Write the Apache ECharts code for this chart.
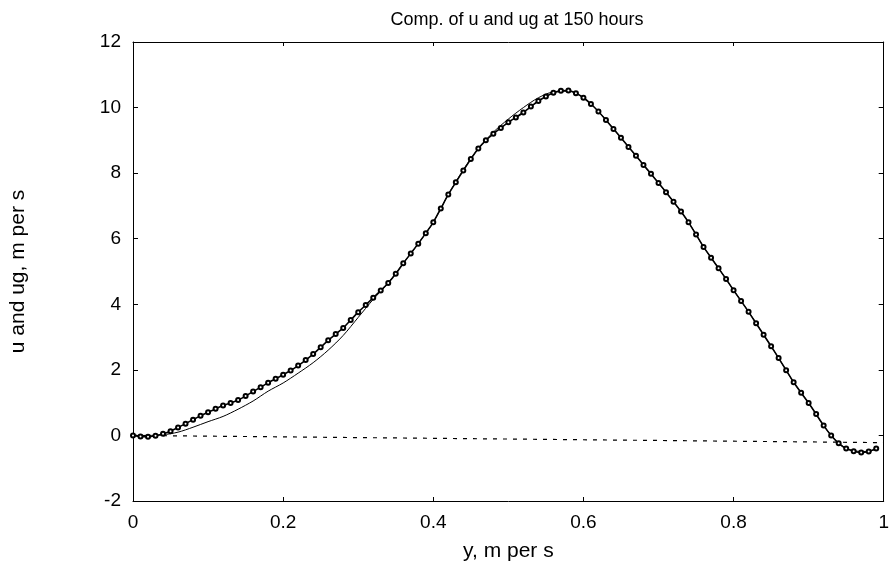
<!DOCTYPE html>
<html><head><meta charset="utf-8">
<script src="https://cdn.jsdelivr.net/npm/echarts@6/dist/echarts.min.js"></script>
<style>html,body{margin:0;padding:0;background:#fff}#c{width:892px;height:579px}</style>
</head><body><div id="c"></div>
<script>
const xsU = [0,0.01,0.02,0.03,0.04,0.05,0.06,0.07,0.08,0.09,0.10,0.11,0.12,0.13,0.14,0.15,0.16,0.17,0.18,0.19,0.20,0.21,0.22,0.23,0.24,0.25,0.26,0.27,0.28,0.29,0.30,0.31,0.32,0.33,0.34,0.35,0.36,0.37,0.38,0.39,0.40,0.41,0.42,0.43,0.44,0.45,0.46,0.47,0.48,0.49,0.50,0.51,0.52,0.53,0.54,0.55,0.56,0.57,0.58,0.59,0.60,0.61,0.62,0.63,0.64,0.65,0.66,0.67,0.68,0.69,0.70,0.71,0.72,0.73,0.74,0.75,0.76,0.77,0.78,0.79,0.80,0.81,0.82,0.83,0.84,0.85,0.86,0.87,0.88,0.89,0.90,0.91,0.92,0.93,0.94,0.95,0.96,0.97,0.98,0.99];
const uVals = [0,-0.03,-0.04,-0.01,0.05,0.13,0.24,0.36,0.48,0.60,0.71,0.81,0.91,0.99,1.08,1.20,1.34,1.47,1.61,1.73,1.85,1.98,2.13,2.30,2.48,2.69,2.90,3.09,3.28,3.52,3.76,3.98,4.20,4.42,4.65,4.93,5.25,5.55,5.85,6.17,6.50,6.92,7.35,7.72,8.08,8.43,8.75,9.00,9.20,9.38,9.55,9.70,9.85,10.03,10.20,10.34,10.45,10.51,10.52,10.44,10.30,10.11,9.88,9.62,9.35,9.08,8.80,8.53,8.25,7.98,7.70,7.42,7.13,6.83,6.50,6.13,5.75,5.42,5.10,4.77,4.43,4.10,3.77,3.42,3.07,2.72,2.36,1.99,1.62,1.30,0.99,0.65,0.30,0.00,-0.24,-0.40,-0.48,-0.52,-0.49,-0.40];
const xsG = [0,0.02,0.04,0.06,0.08,0.10,0.12,0.14,0.16,0.18,0.20,0.22,0.24,0.26,0.28,0.30,0.32,0.34,0.36,0.38,0.40,0.42,0.44,0.46,0.48,0.50,0.52,0.54,0.56,0.58,0.60,0.62,0.64,0.66,0.68,0.70,0.72,0.74,0.76,0.78,0.80,0.82,0.84,0.86,0.88,0.90,0.92,0.94,0.96,0.98,0.99];
const ugVals = [0,0,0.02,0.1,0.25,0.42,0.58,0.8,1.05,1.35,1.6,1.9,2.22,2.6,3.05,3.6,4.15,4.65,5.25,5.85,6.5,7.35,8.1,8.75,9.25,9.65,10.0,10.3,10.48,10.5,10.3,9.88,9.35,8.8,8.25,7.7,7.13,6.5,5.75,5.1,4.43,3.77,3.07,2.36,1.62,0.99,0.3,-0.24,-0.47,-0.49,-0.4];
const refX = [0, 1];
const refVals = [0, -0.22];
const xTicks = [0,0.2,0.4,0.6,0.8,1];
const yTicks = [-2,0,2,4,6,8,10,12];

const pair = (a,b)=>a.map((v,i)=>[v,b[i]]);
const font = 'Liberation Sans, Arial, sans-serif';
const chart = echarts.init(document.getElementById('c'));
const axLine = {show:true,onZero:false,lineStyle:{color:'#000',width:1}};
chart.setOption({
  animation:false,
  backgroundColor:'#fff',
  title:{text:'Comp. of u and ug at 150 hours',left:512,top:6,textAlign:'center',
    textStyle:{fontFamily:font,fontWeight:'normal',fontSize:18,color:'#000'}},
  grid:{left:133,right:7,top:42,bottom:78},
  xAxis:[{type:'value',min:0,max:1,interval:0.2,position:'bottom',
    axisLine:axLine,axisTick:{show:true,inside:true,length:4,lineStyle:{color:'#000'}},
    splitLine:{show:false},
    axisLabel:{color:'#000',fontSize:19,fontFamily:font,margin:12,
      formatter:v=>xTicks.includes(+v.toFixed(1))?String(+v.toFixed(1)):''},
    name:'y, m per s',nameLocation:'middle',nameGap:40,
    nameTextStyle:{color:'#000',fontSize:21,fontFamily:font}},
   {type:'value',min:0,max:1,interval:0.2,position:'top',
    axisLine:axLine,axisTick:{show:true,inside:true,length:4,lineStyle:{color:'#000'}},
    axisLabel:{show:false},splitLine:{show:false}}],
  yAxis:[{type:'value',min:-2,max:12,interval:2,position:'left',
    axisLine:axLine,axisTick:{show:true,inside:true,length:5,lineStyle:{color:'#000'}},
    splitLine:{show:false},
    axisLabel:{color:'#000',fontSize:19,fontFamily:font,margin:12,
      formatter:v=>yTicks.includes(v)?String(v):''},
    name:'u and ug, m per s',nameLocation:'middle',nameGap:104,nameRotate:90,
    nameTextStyle:{color:'#000',fontSize:21,fontFamily:font}},
   {type:'value',min:-2,max:12,interval:2,position:'right',
    axisLine:axLine,axisTick:{show:true,inside:true,length:5,lineStyle:{color:'#000'}},
    axisLabel:{show:false},splitLine:{show:false}}],
  series:[
    {name:'zero',type:'line',data:pair(refX,refVals),showSymbol:false,symbol:'none',
     lineStyle:{color:'#000',width:1.2,type:[4,6]}},
    {name:'ug',type:'line',data:pair(xsG,ugVals),smooth:0.3,symbol:'none',
     lineStyle:{color:'#000',width:1}},
    {name:'u',type:'line',data:pair(xsU,uVals),smooth:0.2,symbol:'emptyCircle',symbolSize:4,
     itemStyle:{color:'#000',borderColor:'#000',borderWidth:1},
     lineStyle:{color:'#000',width:1.6}}
  ]
});
</script></body></html>
